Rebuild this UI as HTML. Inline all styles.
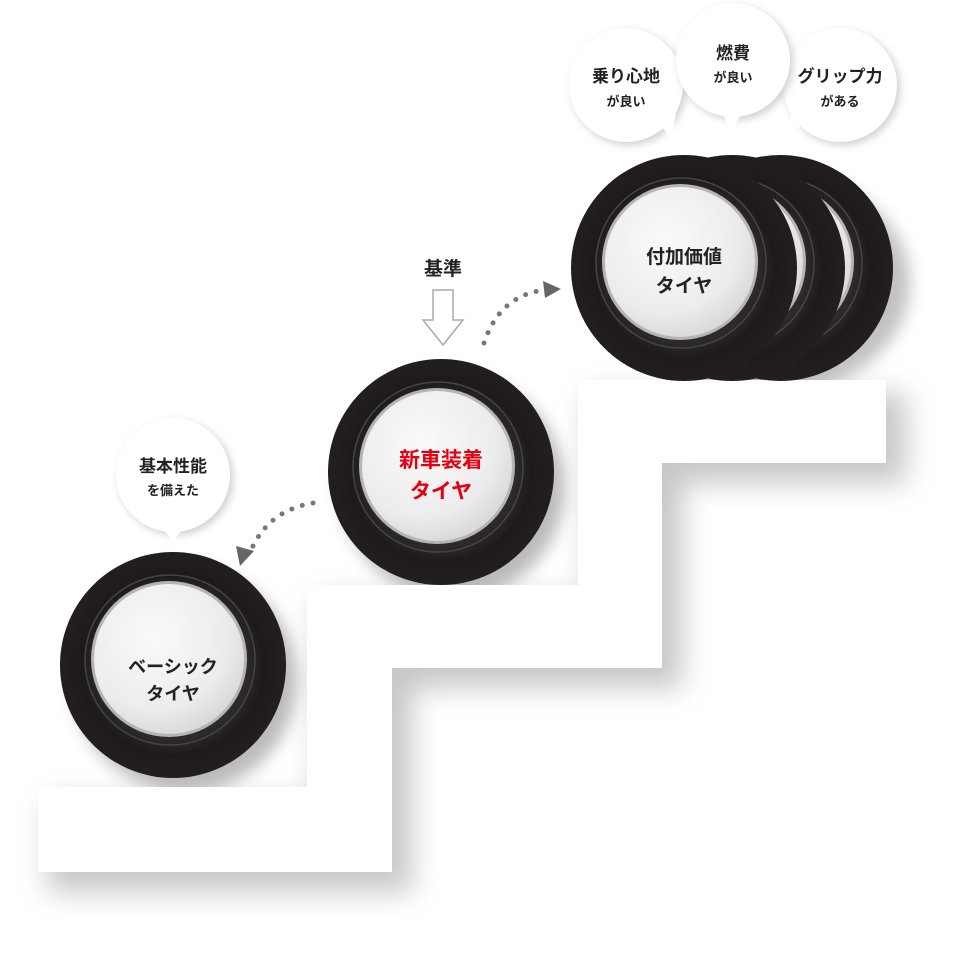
<!DOCTYPE html>
<html><head><meta charset="utf-8"><style>
html,body{margin:0;padding:0;background:#fff;}
svg text{font-family:"Liberation Sans","Noto Sans CJK JP",sans-serif;font-weight:bold;text-anchor:middle;}
</style></head><body>
<svg width="964" height="951" viewBox="0 0 964 951" xmlns="http://www.w3.org/2000/svg">
<defs>
<filter id="sh" x="-20%" y="-20%" width="150%" height="150%"><feGaussianBlur stdDeviation="14"/></filter>
<filter id="ts" x="-30%" y="-30%" width="160%" height="160%"><feGaussianBlur stdDeviation="8"/></filter>
<filter id="bs" x="-30%" y="-30%" width="160%" height="160%"><feGaussianBlur stdDeviation="4"/></filter>
<radialGradient id="hub" cx="40%" cy="35%" r="70%"><stop offset="0" stop-color="#fafafa"/><stop offset="0.7" stop-color="#ececec"/><stop offset="1" stop-color="#d6d6d6"/></radialGradient>
<radialGradient id="rub" cx="50%" cy="50%" r="50%"><stop offset="0.66" stop-color="#2e2a2a"/><stop offset="0.8" stop-color="#1e1a1a"/><stop offset="1" stop-color="#231f1f"/></radialGradient>
<g id="tire">
<circle r="113" fill="url(#rub)"/>
<circle cx="-3" cy="-5" r="85" fill="none" stroke="#444" stroke-width="1.5"/>
<circle cx="-4" cy="-6" r="78" fill="#b5b5b5"/>
<circle cx="-4" cy="-6" r="75" fill="url(#hub)"/>
</g>
</defs>
<polygon points="48,800 317,800 317,598 588,598 588,393 906,393 906,483 682,483 682,688 412,688 412,892 48,892" fill="#9a9a9a" opacity="0.55" filter="url(#sh)"/>
<ellipse cx="185" cy="680" rx="112" ry="112" fill="#777" opacity="0.5" filter="url(#ts)"/>
<ellipse cx="453" cy="487" rx="112" ry="112" fill="#777" opacity="0.5" filter="url(#ts)"/>
<ellipse cx="770" cy="283" rx="140" ry="112" fill="#777" opacity="0.45" filter="url(#ts)"/>
<polygon points="38,787 307,787 307,585 578,585 578,380 886,380 886,463 662,463 662,668 392,668 392,872 38,872" fill="#fff"/>
<use href="#tire" x="780" y="268"/>
<use href="#tire" x="732" y="268"/>
<use href="#tire" x="684" y="268"/>
<use href="#tire" x="441" y="472"/>
<use href="#tire" x="173" y="665"/>
<text x="684" y="263" font-size="19" fill="#222">付加価値</text>
<text x="684" y="292" font-size="19" fill="#222">タイヤ</text>
<text x="441" y="467" font-size="21" fill="#e60012">新車装着</text>
<text x="441" y="498" font-size="21" fill="#e60012">タイヤ</text>
<text x="173" y="673" font-size="18" fill="#222">ベーシック</text>
<text x="173" y="700" font-size="18" fill="#222">タイヤ</text>
<g>
<circle cx="176" cy="478" r="57" fill="#888" opacity="0.4" filter="url(#bs)"/>
<circle cx="173" cy="475" r="57" fill="#fff"/><polygon points="163,528 183,528 173,542" fill="#fff"/>
<text x="173" y="472" font-size="17" fill="#222">基本性能</text>
<text x="173" y="495" font-size="13" fill="#222">を備えた</text>
</g>
<g>
<circle cx="629" cy="88" r="57" fill="#888" opacity="0.4" filter="url(#bs)"/>
<circle cx="626" cy="85" r="57" fill="#fff"/><polygon points="660,125 676,112 672,140" fill="#fff"/>
<circle cx="843" cy="88" r="57" fill="#888" opacity="0.4" filter="url(#bs)"/>
<circle cx="840" cy="85" r="57" fill="#fff"/><polygon points="792,112 806,124 786,133" fill="#fff"/>
<circle cx="736" cy="63" r="57" fill="#888" opacity="0.4" filter="url(#bs)"/>
<circle cx="733" cy="60" r="57" fill="#fff"/><polygon points="722,112 742,112 731,132" fill="#fff"/>
<text x="626" y="82" font-size="17" fill="#222">乗り心地</text>
<text x="626" y="106" font-size="13" fill="#222">が良い</text>
<text x="733" y="59" font-size="17" fill="#222">燃費</text>
<text x="733" y="82" font-size="13" fill="#222">が良い</text>
<text x="840" y="82" font-size="17" fill="#222">グリップ力</text>
<text x="840" y="106" font-size="13" fill="#222">がある</text>
</g>
<text x="443" y="275" font-size="19" fill="#222">基準</text>
<polygon points="433,290 453,290 453,320 463,320 443,345 423,320 433,320" fill="#fff" stroke="#aaa" stroke-width="1.5"/>
<path d="M313,503 Q270,510 252,548" fill="none" stroke="#777" stroke-width="5" stroke-linecap="round" stroke-dasharray="0 11"/>
<polygon points="236,546 254,551 240,566" fill="#666"/>
<path d="M484,343 Q500,295 545,290" fill="none" stroke="#777" stroke-width="5" stroke-linecap="round" stroke-dasharray="0 11"/>
<polygon points="543,281 561,289 545,298" fill="#666"/>
</svg>
</body></html>
